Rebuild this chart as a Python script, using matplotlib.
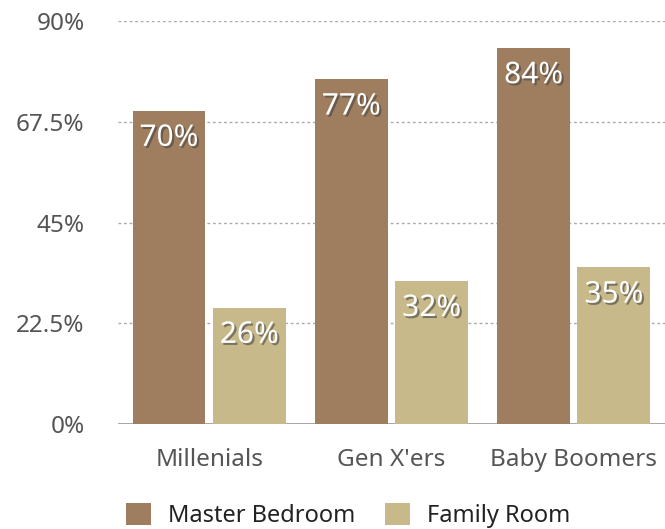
import numpy as np
import matplotlib.pyplot as plt
import matplotlib.patheffects as pe

categories = ['Millenials', "Gen X'ers", 'Baby Boomers']
master = [70, 77, 84]
family = [26, 32, 35]
yticks = [0, 22.5, 45, 67.5, 90]
ytick_labels = ['0%', '22.5%', '45%', '67.5%', '90%']

c_master = '#9e7e5e'
c_family = '#c8b98a'

plt.rcParams['font.family'] = ['Noto Sans', 'DejaVu Sans']

fig = plt.figure(figsize=(6.65, 5.29), dpi=100)
ax = fig.add_axes([0.1774, 0.1985, 0.8226, 0.7617])

x = np.arange(len(categories))
w = 0.4
b1 = ax.bar(x - 0.22, master, w, color=c_master, label='Master Bedroom', zorder=3)
b2 = ax.bar(x + 0.22, family, w, color=c_family, label='Family Room', zorder=3)

shadow = [pe.withSimplePatchShadow(offset=(1.5, -1.5), shadow_rgbFace='#444444', alpha=0.6)]
for bars in (b1, b2):
    for r in bars:
        v = r.get_height()
        ax.annotate(f'{v:.0f}%', (r.get_x() + r.get_width() / 2, v),
                    xytext=(0, -20), textcoords='offset points',
                    ha='center', va='center', color='white', fontsize=21.5,
                    fontweight='semibold', path_effects=shadow, zorder=4)

ax.set_xlim(-0.5, 2.5)
ax.set_ylim(0, 90)
ax.set_yticks(yticks)
ax.set_yticklabels(ytick_labels)
ax.set_xticks(x)
ax.set_xticklabels(categories)
ax.tick_params(axis='y', length=0, pad=24, labelsize=17.5, labelcolor='#555555')
ax.tick_params(axis='x', length=0, pad=17, labelsize=17.5, labelcolor='#555555')
for s in ax.spines.values():
    s.set_visible(False)
ax.yaxis.grid(True, linestyle=(0, (2, 2)), color='#aaaaaa', linewidth=1, zorder=0)
ax.axhline(0, color='#999999', linewidth=1.2, zorder=2)

fig.legend(loc='center', bbox_to_anchor=(0.524, 0.026), ncol=2, frameon=False,
           fontsize=17, handlelength=1.06, handleheight=1.06, handletextpad=0.72,
           columnspacing=1.27, labelcolor='#222222')

fig.savefig('out.png', dpi=100)
